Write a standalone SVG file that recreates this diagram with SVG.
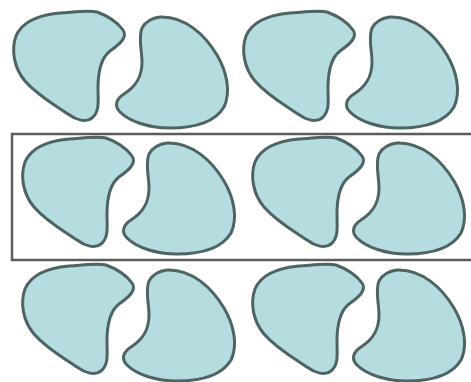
<svg xmlns="http://www.w3.org/2000/svg" xmlns:xlink="http://www.w3.org/1999/xlink" width="471" height="382" viewBox="0 0 471 382">
<style>
.blob{fill:#b5dde0;stroke:#4d6462;stroke-width:3;stroke-linejoin:round}
.frame{fill:none;stroke:#5c5c5c;stroke-width:2.5}
</style>
<defs>
<path id="L" d="M97,12 C108,16 118,23 123,30 C128,37 120,44 110,51 C101,58 98,72 98,88 C98,100 100,112 92,118 C86,123 76,120 68,114 C55,105 38,96 25,81 C14,68 11,50 16,36 C22,22 38,15 60,13 C75,12 88,10 97,12 Z"/>
<path id="R" d="M160,17 C185,16 205,35 217,55 C227,72 231,92 224,107 C215,122 195,128 170,128 C150,128 130,122 120,112 C114,106 116,99 124,94 C135,87 142,78 142,62 C142,50 138,38 142,28 C146,21 152,18 160,17 Z"/>
</defs>
<rect width="471" height="382" fill="#ffffff"/>
<g id="frame"><rect class="frame" x="12" y="134" width="470" height="126"/></g>
<g id="r1a"><use xlink:href="#L" class="blob"/></g>
<g id="r1b"><use xlink:href="#R" class="blob"/></g>
<g id="r1c"><use xlink:href="#L" class="blob" transform="translate(230,0)"/></g>
<g id="r1d"><use xlink:href="#R" class="blob" transform="translate(230,0)"/></g>
<g id="r2a"><use xlink:href="#L" class="blob" transform="translate(9,126)"/></g>
<g id="r2b"><use xlink:href="#R" class="blob" transform="translate(7,126)"/></g>
<g id="r2c"><use xlink:href="#L" class="blob" transform="translate(239,126)"/></g>
<g id="r2d"><use xlink:href="#R" class="blob" transform="translate(237,126)"/></g>
<g id="r3a"><use xlink:href="#L" class="blob" transform="translate(9,253)"/></g>
<g id="r3b"><use xlink:href="#R" class="blob" transform="translate(7,253)"/></g>
<g id="r3c"><use xlink:href="#L" class="blob" transform="translate(239,253)"/></g>
<g id="r3d"><use xlink:href="#R" class="blob" transform="translate(237,253)"/></g>
<g id="connectors"/>
</svg>
